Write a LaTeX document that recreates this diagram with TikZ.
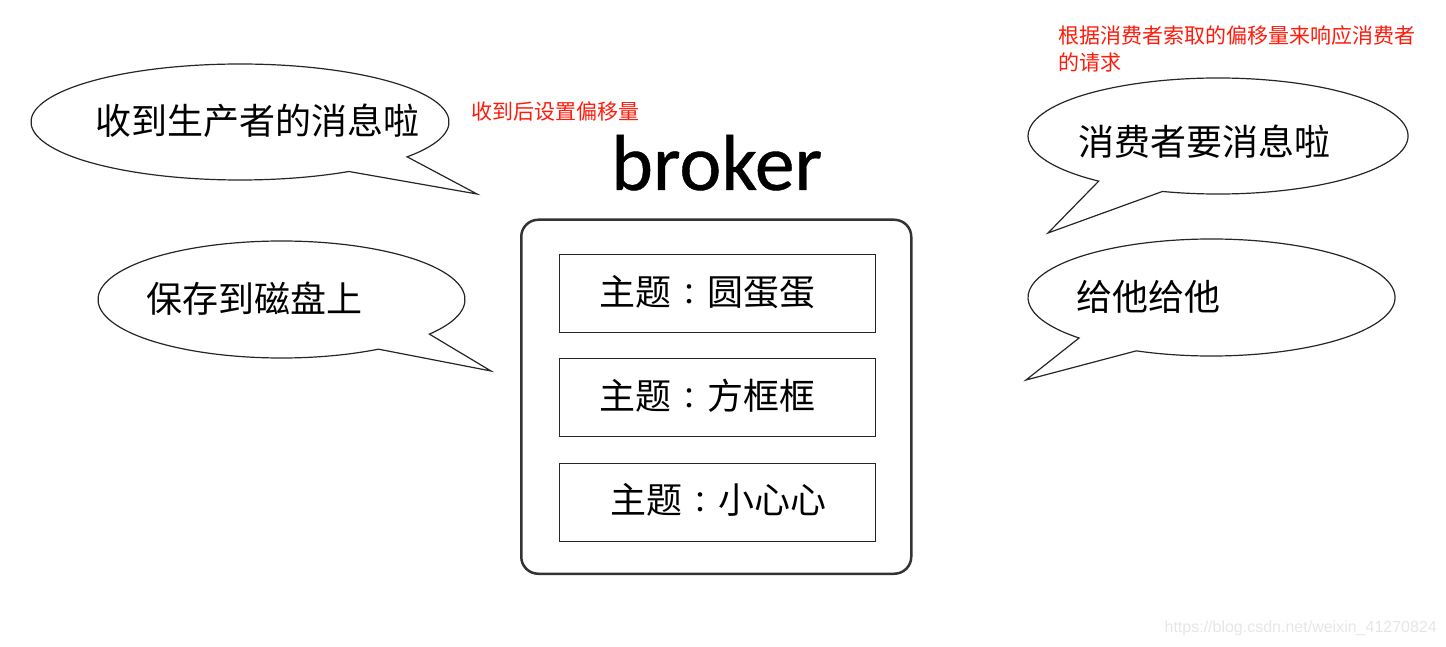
\documentclass[tikz,border=0pt]{standalone}
\usepackage{fontspec}
\setmainfont{Noto Sans CJK SC}
\newfontfamily\latinfont[FakeBold=0.5]{Carlito}
\newfontfamily\markfont{Liberation Sans}
\newfontfamily\tcfont{Noto Sans CJK TC}
\definecolor{framegray}{HTML}{333333}
\definecolor{linegray}{HTML}{262626}
\definecolor{notered}{HTML}{FF1A0A}
\definecolor{markgray}{HTML}{E6E6E6}
\newcommand{\bigcn}{\fontsize{36}{36}\selectfont}
\newcommand{\smallcn}{\fontsize{21}{27}\selectfont}
\newcommand{\topiccolon}{\makebox[36pt]{\tcfont\fontsize{30}{30}\selectfont ：}}
\tikzset{
  x=1pt,y=1pt,
  bubble/.style={draw=linegray,line width=1.2pt,line join=miter,fill=white},
  saytext/.style={anchor=west,inner sep=0pt,text=black,font=\bigcn},
  notetext/.style={anchor=west,inner sep=0pt,text=notered,font=\smallcn,align=left},
  topicbox/.style={draw=linegray,line width=1.2pt,minimum width=316.5pt,minimum height=77.5pt,inner sep=0pt,anchor=north west},
  outerbox/.style={draw=framegray,line width=2.5pt,rounded corners=17pt,minimum width=390pt,minimum height=354pt,inner sep=0pt,anchor=north west}
}
\begin{document}
\begin{tikzpicture}
\useasboundingbox (0,0) rectangle (1446,-647);
% speech bubbles
\draw[bubble] (240,-122) ++(-36.9:209 and 58) arc[start angle=-36.9,end angle=301.4,x radius=209,y radius=58] -- (477,-194) -- cycle;
\draw[bubble] (281.5,-299.5) ++(-36.3:183.5 and 58.5) arc[start angle=-36.3,end angle=301.9,x radius=183.5,y radius=58.5] -- (491,-371) -- cycle;
\draw[bubble] (1218,-136) ++(253:190 and 58) arc[start angle=253,end angle=591.1,x radius=190,y radius=58] -- (1048,-233) -- cycle;
\draw[bubble] (1211.5,-297.5) ++(245.8:183.5 and 58.5) arc[start angle=245.8,end angle=583.8,x radius=183.5,y radius=58.5] -- (1026,-380) -- cycle;
% bubble texts
\node[saytext] (recv) at (95.5,-121) {收到生产者的消息啦};
\node[saytext] (save) at (146.5,-299) {保存到磁盘上};
\node[saytext] (want) at (1078.5,-142) {消费者要消息啦};
\node[saytext] (give) at (1076.5,-296.5) {给他给他};
% red notes
\node[notetext] (note1) at (471,-111.5) {收到后设置偏移量};
\node[notetext,anchor=north west] (note2) at (1058,-25) {根据消费者索取的偏移量来响应消费者\\的请求};
% broker
\node[anchor=base west,inner sep=0pt,font=\latinfont\fontsize{79.5}{80}\selectfont] (title) at (611,-190) {broker};
\node[outerbox] (broker) at (520,-218.5) {};
\node[topicbox] (t1) at (558.5,-254) {};
\node[topicbox] (t2) at (558.5,-358) {};
\node[topicbox] (t3) at (558.5,-463) {};
\node[saytext] (t1text) at (599.5,-292) {主题\topiccolon 圆蛋蛋};
\node[saytext] (t2text) at (599.5,-396) {主题\topiccolon 方框框};
\node[saytext] (t3text) at (610.5,-500) {主题\topiccolon 小心心};
% watermark
\node[anchor=east,inner sep=0pt,text=markgray,font=\markfont\fontsize{16}{16}\selectfont] (mark) at (1437,-628) {https://blog.csdn.net/weixin\_41270824};
\end{tikzpicture}
\end{document}
